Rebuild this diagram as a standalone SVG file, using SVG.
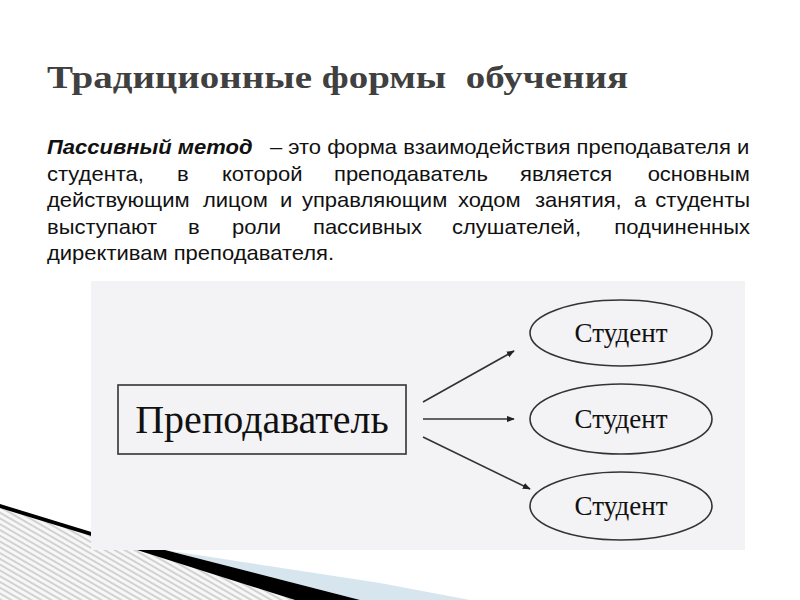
<svg xmlns="http://www.w3.org/2000/svg" width="800" height="600" viewBox="0 0 800 600">
<defs>
<style>
.title{font-family:"Liberation Serif",serif;font-weight:bold;font-size:32px;fill:#404040;white-space:pre}
.p{font-family:"Liberation Sans",Arial,sans-serif;font-size:20px;fill:#111}
.bi{font-weight:bold;font-style:italic}
.node{fill:none;stroke:#333;stroke-width:1.6}
.lbl{font-family:"Liberation Serif",serif;fill:#111;text-anchor:middle}
.edge{stroke:#333;stroke-width:1.6;fill:none;marker-end:url(#ah)}
</style>
<marker id="ah" viewBox="0 0 10 10" refX="9" refY="5" markerWidth="8" markerHeight="8" orient="auto" markerUnits="userSpaceOnUse">
<path d="M0,1 L10,5 L0,9 Z" fill="#222"/>
</marker>
<pattern id="hatch" width="5" height="5" patternUnits="userSpaceOnUse" patternTransform="rotate(-60)">
<rect width="5" height="5" fill="#f7f7f7"/>
<rect width="2" height="5" fill="#d2d2d2"/>
</pattern>
</defs>
<rect width="800" height="600" fill="#fff"/>
<g id="decor">
<polygon points="0,506 137,549 295,600 0,600" fill="url(#hatch)"/>
<polygon points="165,550 380,583 470,600 360,600" fill="#d7e6ee"/>
<polygon points="0,504 137,546 137,550 0,508" fill="#000"/>
<polygon points="137,550 165,550 360,600 295,600" fill="#000"/>
</g>
<text class="title" x="47" y="88" textLength="581" lengthAdjust="spacingAndGlyphs">Традиционные формы  обучения</text>
<g id="paragraph" class="p" transform="translate(47,0) scale(1.1,1) translate(-47,0)">
<text y="154"><tspan x="47" class="bi">Пассивный метод</tspan><tspan x="249.7">– это форма взаимодействия преподавателя и</tspan></text>
<text y="181"><tspan x="47">студента,</tspan><tspan x="165.2">в</tspan><tspan x="206.1">которой</tspan><tspan x="307.9">преподаватель</tspan><tspan x="477">является</tspan><tspan x="686.1" text-anchor="end">основным</tspan></text>
<text y="207"><tspan x="47">действующим</tspan><tspan x="188.8">лицом</tspan><tspan x="258.8">и</tspan><tspan x="278.8">управляющим</tspan><tspan x="420.6">ходом</tspan><tspan x="490.6">занятия,</tspan><tspan x="580.6">а</tspan><tspan x="686.1" text-anchor="end">студенты</tspan></text>
<text y="234"><tspan x="47">выступают</tspan><tspan x="175.2">в</tspan><tspan x="215.2">роли</tspan><tspan x="288.8">пассивных</tspan><tspan x="415.2">слушателей,</tspan><tspan x="686.1" text-anchor="end">подчиненных</tspan></text>
<text y="260"><tspan x="47">директивам преподавателя.</tspan></text>
</g>
<rect id="figure-bg" x="91" y="281" width="654" height="269" fill="#f3f2f4"/>
<g id="connectors">
<line class="edge" x1="423" y1="402" x2="514" y2="351"/>
<line class="edge" x1="423" y1="419" x2="514" y2="419"/>
<line class="edge" x1="423" y1="437" x2="530" y2="489"/>
</g>
<g id="teacher">
<rect class="node" x="118" y="385" width="288" height="69"/>
<text class="lbl" x="262" y="433" font-size="40">Преподаватель</text>
</g>
<g id="student1">
<ellipse class="node" cx="621" cy="333" rx="91" ry="33"/>
<text class="lbl" x="621" y="342" font-size="27">Студент</text>
</g>
<g id="student2">
<ellipse class="node" cx="621" cy="419" rx="91" ry="35"/>
<text class="lbl" x="621" y="428" font-size="27">Студент</text>
</g>
<g id="student3">
<ellipse class="node" cx="621" cy="506" rx="91" ry="34"/>
<text class="lbl" x="621" y="515" font-size="27">Студент</text>
</g>
</svg>
